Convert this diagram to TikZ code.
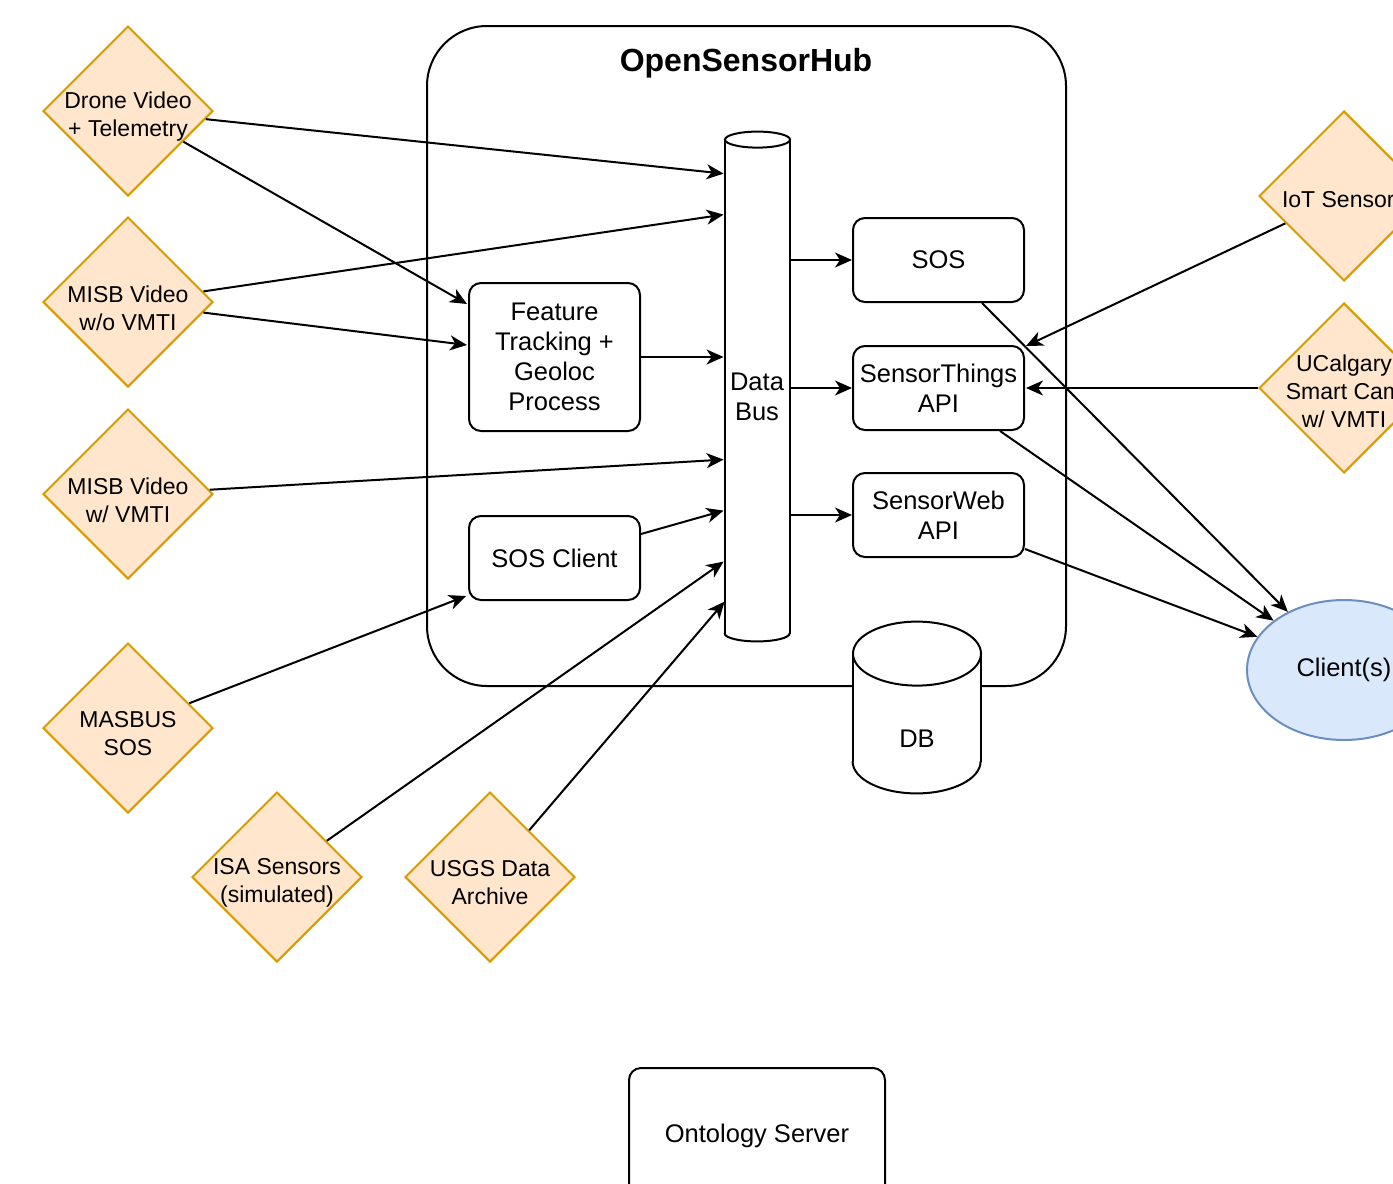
\documentclass[tikz,border=0pt]{standalone}
\usepackage{fontspec}
\setmainfont{Liberation Sans}
\usetikzlibrary{shapes.geometric,arrows.meta,calc}
\definecolor{orfill}{HTML}{FFE6CC}
\definecolor{orline}{HTML}{D79B00}
\definecolor{blfill}{HTML}{DAE8FC}
\definecolor{blline}{HTML}{6C8EBF}
\begin{document}
\begin{tikzpicture}[x=0.5pt,y=-0.5pt,
  src/.style={diamond, draw=orline, fill=orfill, line width=1pt, minimum width=85pt, minimum height=85pt, inner sep=0pt, aspect=1},
  srctext/.style={font=\fontsize{11.5}{14}\selectfont, align=center, inner sep=0pt},
  boxfont/.style={font=\fontsize{12.75}{15}\selectfont, align=center, inner sep=0pt},
  box/.style={boxfont, draw, rounded corners=6pt, line width=1pt, minimum width=85.5pt, minimum height=42pt},
  conn/.style={-{Stealth[length=8.5pt,width=7.5pt,inset=2.5pt]}, line width=1pt},
  cylline/.style={draw, line width=1pt, line cap=round}
]
\useasboundingbox (0,0) rectangle (1393,1184);
\clip (0,0) rectangle (1393,1184);

% OpenSensorHub container
\node[draw, line width=1pt, rounded corners=30pt, minimum width=319.5pt, minimum height=330pt, inner sep=0pt] (osh) at (746.5,356) {};
\node[font=\bfseries\fontsize{16}{19}\selectfont, inner sep=0pt] (title) at (746,63) {OpenSensorHub};

% Data bus cylinder
\node[inner sep=0pt, minimum width=32.5pt, minimum height=246.5pt] (bus) at (757.5,386.5) {};
\fill[white] (bus.north west) rectangle (bus.south east);
\fill[white] (bus.south) ellipse[x radius=16.25pt, y radius=4pt];
\draw[cylline] (bus.north west) -- (bus.south west);
\draw[cylline] (bus.north east) -- (bus.south east);
\draw[cylline] (bus.south west) arc[start angle=180, end angle=360, x radius=16.25pt, y radius=4pt];
\draw[cylline, fill=white] (bus.north) ellipse[x radius=16.25pt, y radius=4pt];
\node[boxfont] (bustext) at (757,397) {Data\\Bus};

% DB cylinder
\node[inner sep=0pt, minimum width=64pt, minimum height=53.5pt] (db) at (917,707.5) {};
\fill[white] (db.north west) rectangle (db.south east);
\fill[white] (db.south) ellipse[x radius=32pt, y radius=16pt];
\draw[cylline] (db.north west) -- (db.south west);
\draw[cylline] (db.north east) -- (db.south east);
\draw[cylline] (db.south west) arc[start angle=180, end angle=360, x radius=32pt, y radius=16pt];
\draw[cylline, fill=white] (db.north) ellipse[x radius=32pt, y radius=16pt];
\node[boxfont] (dbtext) at (917,739) {DB};

% inner boxes
\node[box, minimum height=74pt] (feat) at (554.5,357) {Feature\\Tracking +\\Geoloc\\Process};
\node[box] (sosc) at (554.5,558) {SOS Client};
\node[box] (sos) at (938.5,260) {SOS};
\node[box] (sta) at (938.5,388) {SensorThings\\API};
\node[box] (swa) at (938.5,515) {SensorWeb\\API};
\node[box, minimum width=128pt, minimum height=68pt] (onto) at (757,1136) {Ontology Server};

% sources
\node[src] (drone) at (128,111) {};
\node[srctext] (dronet) at (128,117) {Drone Video\\+ Telemetry};
\node[src] (misbwo) at (128,302) {};
\node[srctext] (misbwot) at (128,308) {MISB Video\\w/o VMTI};
\node[src] (misbw) at (128,494) {};
\node[srctext] (misbwt) at (128,500) {MISB Video\\w/ VMTI};
\node[src] (masbus) at (128,728) {};
\node[srctext] (masbust) at (128,734) {MASBUS\\SOS};
\node[src] (isa) at (277,877) {};
\node[srctext] (isat) at (277,883) {ISA Sensors\\(simulated)};
\node[src] (usgs) at (490,877) {};
\node[srctext] (usgst) at (490,883) {USGS Data\\Archive};
\node[src] (iot) at (1344,196) {};
\node[srctext] (iott) at (1344,200) {IoT Sensors};
\node[src] (ucal) at (1344,388) {};
\node[srctext] (ucalt) at (1344,391) {UCalgary\\Smart Cam\\w/ VMTI};

% client
\node[ellipse, draw=blline, fill=blfill, line width=1pt, minimum width=97pt, minimum height=70pt, boxfont] (client) at (1344,670) {Client(s)};

% connectors into the data bus
\draw[conn] (drone.-6) -- ($(bus.north west)+(-1,34)$);
\draw[conn] (drone.-29) -- ($(feat.north west)+(-1,22)$);
\draw[conn] (misbwo.8) -- ($(bus.north west)+(-1,75)$);
\draw[conn] (misbwo.-8) -- ($(feat.west)+(-1,-12)$);
\draw[conn] (misbw.3.5) -- ($(bus.north west)+(-1,320)$);
\draw[conn] ($(sosc.east)+(0,-24)$) -- ($(bus.north west)+(-1,371)$);
\draw[conn] (masbus.22) -- ($(sosc.south west)+(-2,-5)$);
\draw[conn] (isa.36) -- ($(bus.north west)+(-1,422)$);
\draw[conn] (usgs.50) -- ($(bus.north west)+(0,462)$);
\draw[conn] (feat.east) -- ($(feat.east -| bus.west)+(-1,0)$);

% data bus to services
\draw[conn] (sos.west -| bus.east) -- (sos.west);
\draw[conn] (sta.west -| bus.east) -- (sta.west);
\draw[conn] (swa.west -| bus.east) -- (swa.west);

% external sources to SensorThings
\draw[conn] (iot.205) -- ($(sta.north east)+(1,1)$);
\draw[conn] (ucal.west) -- ($(sta.east)+(1,0)$);

% services to clients
\draw[conn] ($(sos.south)+(43.5,0)$) -- (client.134);
\draw[conn] ($(sta.south)+(61.5,0)$) -- (client.145);
\draw[conn] ($(swa.south east)+(0,-9)$) -- (client.159);
\end{tikzpicture}
\end{document}
